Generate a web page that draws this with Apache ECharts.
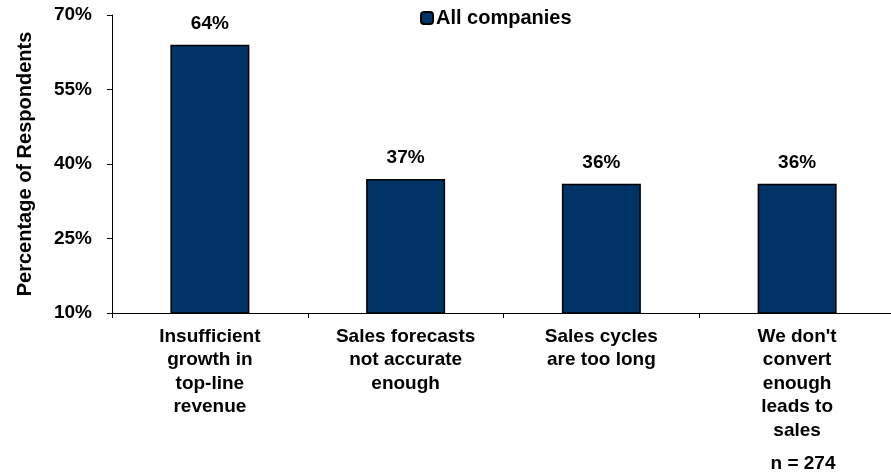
<!DOCTYPE html>
<html><head><meta charset="utf-8">
<script src="https://cdn.jsdelivr.net/npm/echarts@6/dist/echarts.min.js"></script>
<style>html,body{margin:0;padding:0;background:#fff;overflow:hidden;width:891px;height:473px}#c{width:900px;height:473px}</style>
</head><body><div id="c"></div>
<script>
const categories = ["Insufficient\ngrowth in\ntop-line\nrevenue", "Sales forecasts\nnot accurate\nenough", "Sales cycles\nare too long", "We don't\nconvert\nenough\nleads to\nsales"];
const values = [64, 37, 36, 36];
const seriesName = "All companies";
const yTicks = [10, 25, 40, 55, 70];
const note = "n = 274";

const F = "'Liberation Sans', Arial, sans-serif";
const chart = echarts.init(document.getElementById('c'), null, {renderer: 'canvas'});
chart.setOption({
  animation: false,
  backgroundColor: '#fff',
  textStyle: {fontFamily: F},
  legend: {
    data: [seriesName], top: 8, left: 420, padding: 0, itemWidth: 12, itemHeight: 12, itemGap: 3,
    textStyle: {fontFamily: F, fontWeight: 'bold', fontSize: 20, color: '#000', padding: [0, 0, 0, -2]}
  },
  grid: {left: 112, width: 783, top: 15, bottom: 160, containLabel: false},
  xAxis: {
    type: 'category', data: categories,
    axisLine: {lineStyle: {color: '#000', width: 1}},
    axisTick: {show: true, length: 5, lineStyle: {color: '#000'}},
    axisLabel: {interval: 0, fontFamily: F, fontWeight: 'bold', fontSize: 19, color: '#000', lineHeight: 23.5, margin: 12}
  },
  yAxis: {
    type: 'value', min: yTicks[0], max: yTicks[yTicks.length - 1], interval: 15,
    name: 'Percentage of Respondents', nameLocation: 'middle', nameGap: 77, nameRotate: 90,
    nameTextStyle: {fontFamily: F, fontWeight: 'bold', fontSize: 20, color: '#000'},
    axisLine: {show: true, lineStyle: {color: '#000'}},
    axisTick: {show: true, length: 5, lineStyle: {color: '#000'}},
    splitLine: {show: false},
    axisLabel: {formatter: '{value}%', fontFamily: F, fontWeight: 'bold', fontSize: 19, color: '#000', margin: 20}
  },
  series: [{
    name: seriesName, type: 'bar', data: values, barWidth: 79,
    itemStyle: {color: '#003366', borderColor: '#000', borderWidth: 1.5},
    label: {show: true, position: 'top', distance: 12, formatter: '{c}%', fontFamily: F, fontWeight: 'bold', fontSize: 19, color: '#000'}
  }],
  graphic: [{
    type: 'text', x: 803, y: 464,
    style: {text: note, fontFamily: F, fontWeight: 'bold', fontSize: 19, fill: '#000', textAlign: 'center', textVerticalAlign: 'middle'}
  }]
});
</script></body></html>
